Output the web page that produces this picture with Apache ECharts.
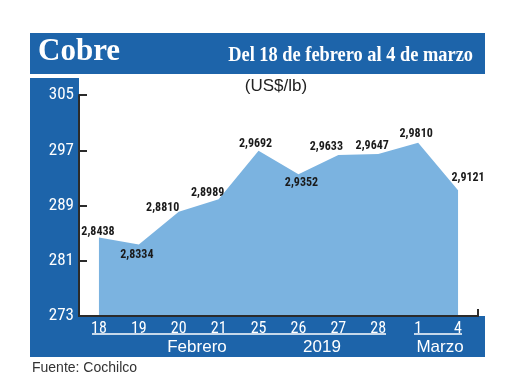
<!DOCTYPE html>
<html>
<head>
<meta charset="utf-8">
<style>
  html, body { margin: 0; padding: 0; background: #ffffff; }
  #chart { width: 520px; height: 390px; }
</style>
<script src="https://cdn.jsdelivr.net/npm/echarts@6/dist/echarts.min.js"></script>
</head>
<body>
<div id="chart"></div>
<script>
// ---- data ----
const categories = ['18', '19', '20', '21', '25', '26', '27', '28', '1', '4'];
const prices = [2.8438, 2.8334, 2.8810, 2.8989, 2.9692, 2.9352, 2.9633, 2.9647, 2.9810, 2.9121]; // US$/lb
const yTicks = [273, 281, 289, 297, 305];
const monthLabels = ['Febrero', '2019', 'Marzo'];

// ---- label placement (style) ----
const labelOffsets = [[-1, 1], [-2, 17], [-16, 3], [-11, 0], [-3, 0], [3, 15], [-12, -1], [-6, -1], [-2, -2], [10, -6]];

const BLUE = '#1D64AA';
const AREA = '#7BB3E0';
const AXIS = '#2b2b2b';
const NARROW = '"Liberation Sans Narrow", "Roboto Condensed", "DejaVu Sans Condensed", sans-serif';

const chart = echarts.init(document.getElementById('chart'), null, { renderer: 'canvas' });

const seriesData = prices.map((p, i) => ({
  value: +(p * 100).toFixed(2),
  label: { offset: labelOffsets[i] }
}));

const option = {
  backgroundColor: '#ffffff',
  animation: false,
  grid: { left: 79, right: 42, top: 95, bottom: 74 },
  xAxis: {
    type: 'category',
    data: categories,
    boundaryGap: true,
    z: 10,
    axisLine: { lineStyle: { color: AXIS, width: 2 } },
    axisTick: { show: false },
    axisLabel: {
      color: '#ffffff',
      fontFamily: NARROW,
      fontSize: 16,
      margin: 5,
      interval: 0
    },
    splitLine: { show: false }
  },
  yAxis: {
    type: 'value',
    min: 273,
    max: 305,
    z: 10,
    axisLine: { show: true, lineStyle: { color: AXIS, width: 2 } },
    axisTick: { show: true, inside: true, length: 8, lineStyle: { color: AXIS, width: 2 }, customValues: yTicks },
    axisLabel: {
      color: '#ffffff',
      fontFamily: NARROW,
      fontSize: 17,
      margin: 5,
      customValues: yTicks
    },
    splitLine: { show: false }
  },
  series: [{
    type: 'line',
    data: seriesData,
    symbol: 'circle',
    symbolSize: 1,
    showSymbol: true,
    itemStyle: { color: 'rgba(0,0,0,0)' },
    lineStyle: { width: 0 },
    areaStyle: { color: AREA, opacity: 1, origin: 'start' },
    label: {
      show: true,
      position: 'top',
      distance: 0,
      color: '#1a1a1a',
      fontFamily: NARROW,
      fontSize: 12,
      fontWeight: 'bold',
      formatter: (p) => prices[p.dataIndex].toFixed(4).replace('.', ',')
    },
    z: 2
  }],
  graphic: [
    // header band
    { type: 'rect', z: 1, shape: { x: 30, y: 33, width: 455, height: 41 }, style: { fill: BLUE } },
    { type: 'text', z: 3, x: 38, y: 52, style: { x: 0, y: 0, text: 'Cobre', fill: '#ffffff', font: 'bold 31px "Liberation Serif", serif', textVerticalAlign: 'middle' } },
    { type: 'text', z: 3, x: 473, y: 56, scaleX: 0.875, style: { x: 0, y: 0, text: 'Del 18 de febrero al 4 de marzo', fill: '#ffffff', font: 'bold 21px "Liberation Serif", serif', textAlign: 'right', textVerticalAlign: 'middle' } },
    // left band
    { type: 'rect', z: 1, shape: { x: 30, y: 78, width: 49, height: 279 }, style: { fill: BLUE } },
    // bottom band
    { type: 'rect', z: 1, shape: { x: 30, y: 316, width: 455, height: 41 }, style: { fill: BLUE } },
    // unit
    { type: 'text', z: 3, x: 276, y: 86, style: { x: 0, y: 0, text: '(US$/lb)', fill: '#222222', font: '17px "Liberation Sans", sans-serif', textAlign: 'center', textVerticalAlign: 'middle' } },
    // month underlines
    { type: 'line', z: 3, shape: { x1: 92, y1: 334, x2: 386, y2: 334 }, style: { stroke: '#ffffff', lineWidth: 1.5 } },
    { type: 'line', z: 3, shape: { x1: 414, y1: 334, x2: 462, y2: 334 }, style: { stroke: '#ffffff', lineWidth: 1.5 } },
    // month labels
    { type: 'text', z: 3, x: 197, y: 347, style: { x: 0, y: 0, text: monthLabels[0], fill: '#ffffff', font: '17px "Liberation Sans", sans-serif', textAlign: 'center', textVerticalAlign: 'middle' } },
    { type: 'text', z: 3, x: 322, y: 347, style: { x: 0, y: 0, text: monthLabels[1], fill: '#ffffff', font: '17px "Liberation Sans", sans-serif', textAlign: 'center', textVerticalAlign: 'middle' } },
    { type: 'text', z: 3, x: 440, y: 347, style: { x: 0, y: 0, text: monthLabels[2], fill: '#ffffff', font: '17px "Liberation Sans", sans-serif', textAlign: 'center', textVerticalAlign: 'middle' } },
    // right end tick of x axis
    { type: 'line', z: 12, shape: { x1: 478, y1: 309, x2: 478, y2: 317 }, style: { stroke: AXIS, lineWidth: 2 } },
    // source
    { type: 'text', z: 3, x: 32, y: 368, style: { x: 0, y: 0, text: 'Fuente: Cochilco', fill: '#333333', font: '14px "Liberation Sans", sans-serif', textVerticalAlign: 'middle' } }
  ]
};

chart.setOption(option);
</script>
</body>
</html>
